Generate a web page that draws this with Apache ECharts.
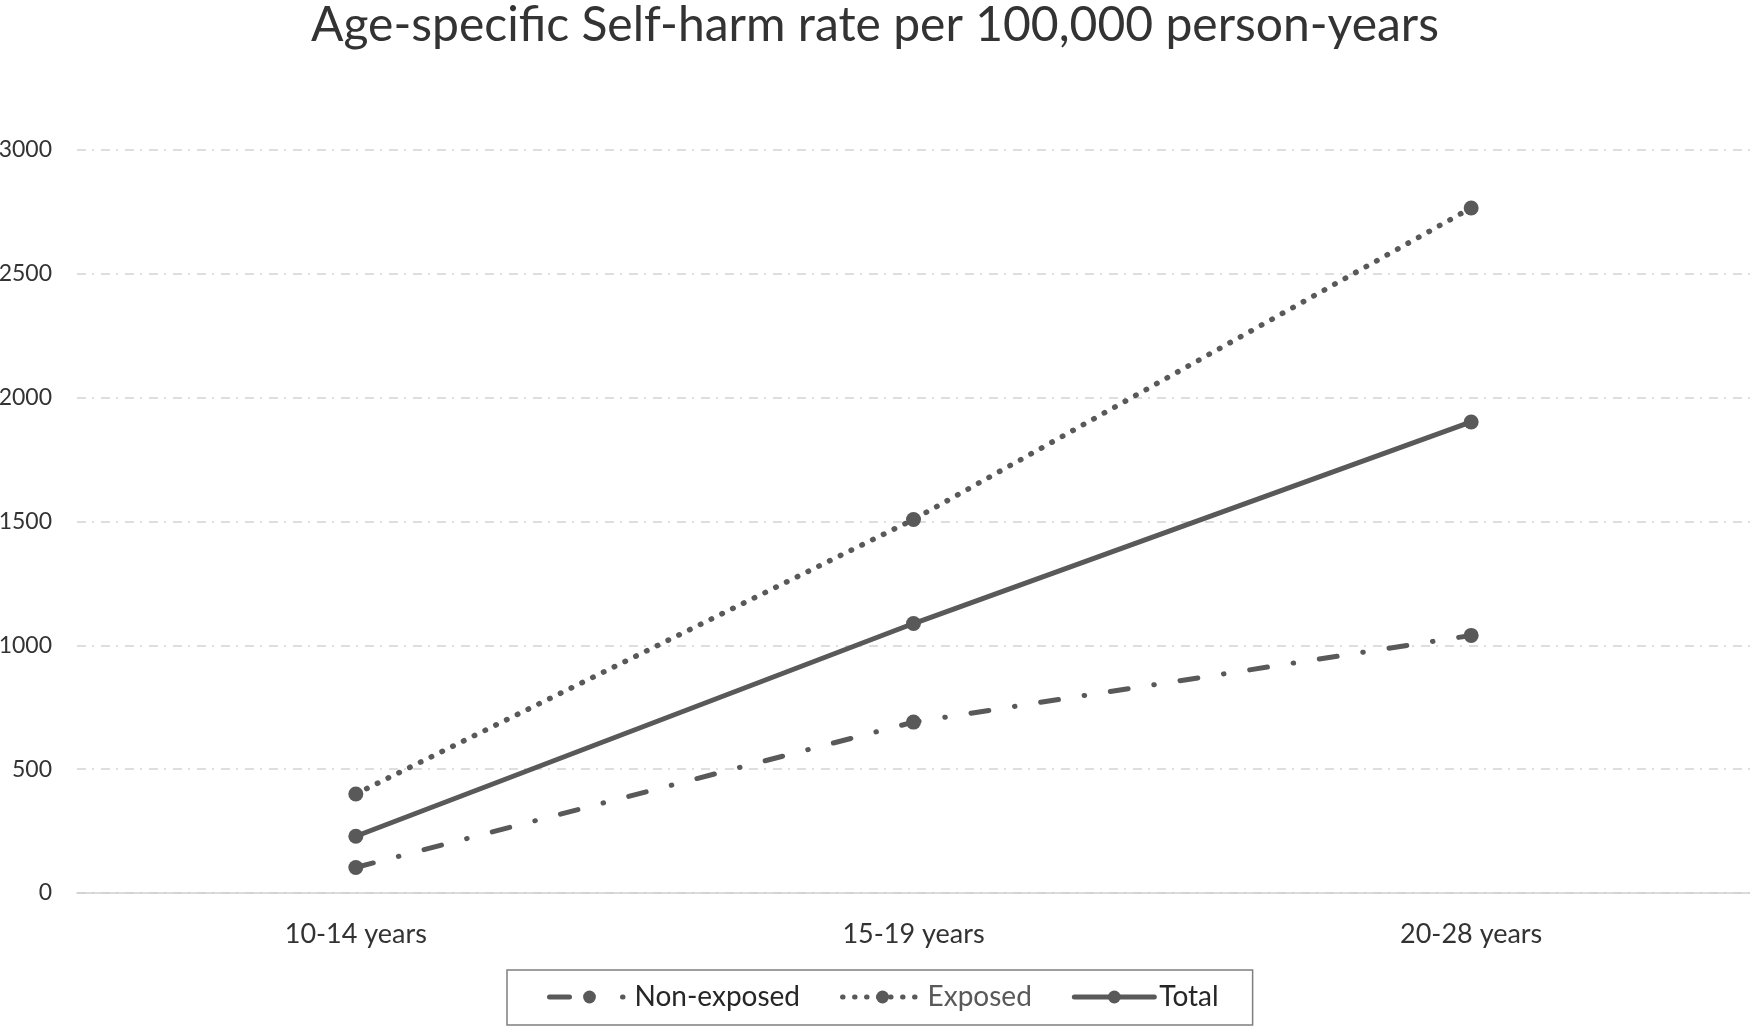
<!DOCTYPE html>
<html>
<head>
<meta charset="utf-8">
<script src="https://cdn.jsdelivr.net/npm/echarts@6/dist/echarts.min.js"></script>
<style>
html,body{margin:0;padding:0;background:#fff;}
#chart{width:1750px;height:1028px;}
</style>
</head>
<body>
<div id="chart"></div>
<script>
const titleText = 'Age-specific Self-harm rate per 100,000 person-years';
const categories = ['10-14 years', '15-19 years', '20-28 years'];
const nonExposed = [103, 690, 1040];
const exposed = [400, 1508, 2766];
const total = [229, 1088, 1902];
const yTicks = { min: 0, max: 3000, interval: 500 };

const FONT = 'Lato';
const LINE = '#595959';

const chart = echarts.init(document.getElementById('chart'), null, { renderer: 'canvas' });
chart.setOption({
  animation: false,
  backgroundColor: '#ffffff',
  title: {
    text: titleText,
    left: 'center',
    top: -3,
    textStyle: { fontFamily: FONT, fontSize: 48, fontWeight: 'normal', color: '#333333' }
  },
  grid: { left: 77, right: 0, top: 150, bottom: 135, containLabel: false, outerBoundsMode: 'none' },
  legend: {
    left: 507,
    top: 970,
    padding: [13, 34, 14, 40],
    borderColor: '#7f7f7f',
    borderWidth: 1.5,
    itemWidth: 80,
    itemHeight: 16,
    itemGap: 40,
    lineStyle: { width: 5 },
    textStyle: { fontFamily: FONT, fontSize: 28, color: '#262626' },
    data: [
      { name: 'Non-exposed', lineStyle: { width: 5, type: [20, 53, 0.5, 60], cap: 'round' } },
      { name: 'Exposed', textStyle: { color: '#595959' } },
      { name: 'Total' }
    ]
  },
  xAxis: {
    type: 'category',
    data: categories,
    boundaryGap: true,
    axisLine: { show: true, lineStyle: { color: '#d0d0d0', width: 1.5 } },
    axisTick: { show: false },
    axisLabel: { fontFamily: FONT, fontSize: 27, color: '#333333', margin: 28 },
    splitLine: { show: false }
  },
  yAxis: {
    type: 'value',
    min: yTicks.min,
    max: yTicks.max,
    interval: yTicks.interval,
    axisLine: { show: false },
    axisTick: { show: false },
    axisLabel: { fontFamily: FONT, fontSize: 23, color: '#333333', margin: 25, formatter: v => String(v) },
    splitLine: { show: true, lineStyle: { color: '#d3d3d3', width: 1.5, type: [9, 6, 2, 7] } }
  },
  series: [
    {
      name: 'Non-exposed', type: 'line', data: nonExposed,
      symbol: 'circle', symbolSize: 15,
      itemStyle: { color: LINE },
      lineStyle: { color: LINE, width: 5, type: [18, 26, 0.5, 26], cap: 'round' }
    },
    {
      name: 'Exposed', type: 'line', data: exposed,
      symbol: 'circle', symbolSize: 15,
      itemStyle: { color: LINE },
      lineStyle: { color: LINE, width: 5.5, type: [0.5, 11.5], cap: 'round' }
    },
    {
      name: 'Total', type: 'line', data: total,
      symbol: 'circle', symbolSize: 15,
      itemStyle: { color: LINE },
      lineStyle: { color: LINE, width: 5, type: 'solid', cap: 'round' }
    }
  ]
});
</script>
</body>
</html>
